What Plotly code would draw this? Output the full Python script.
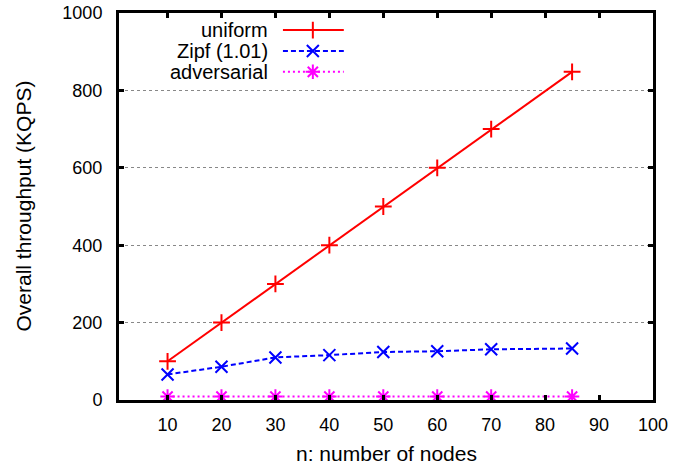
import plotly.graph_objects as go

nodes = [10, 20, 30, 40, 50, 60, 70, 85]
uniform = [100, 200, 300, 400, 500, 600, 700, 848]
zipf = [66, 86, 110, 116, 124, 126, 131, 133]
adversarial = [9, 9, 9, 9, 9, 9, 9, 9]

series_names = ["uniform", "Zipf (1.01)", "adversarial"]
series_values = [uniform, zipf, adversarial]
colors = ["#ff0000", "#0000ff", "#ff00ff"]
dashes = ["solid", "5px,3px", "2px,3px"]
symbols = ["cross-thin", "x-thin", "asterisk"]

x_ticks = [10, 20, 30, 40, 50, 60, 70, 80, 90, 100]
y_ticks = [0, 200, 400, 600, 800, 1000]

FONT = "Liberation Sans, Arial, sans-serif"
TEXT_SIZE = 21
LEG_SIZE = 20
TICK_SIZE = 18

fig = go.Figure()
for name, vals, c, d, s in zip(series_names, series_values, colors, dashes, symbols):
    fig.add_trace(go.Scatter(
        x=nodes, y=vals, mode="lines+markers", name=name,
        line=dict(color=c, width=2, dash=d),
        marker=dict(symbol=s, size=12, line=dict(color=c, width=2), color=c),
        showlegend=False,
    ))

# custom gnuplot-style legend (text right, sample to the right)
leg_rows = [0.956, 0.902, 0.848]
leg_line_x = [0.307, 0.363, 0.421]
for name, c, d, s, ry in zip(series_names, colors, dashes, symbols, leg_rows):
    fig.add_trace(go.Scatter(
        x=leg_line_x, y=[ry] * 3, xaxis="x2", yaxis="y2", mode="lines",
        line=dict(color=c, width=2, dash=d), showlegend=False, hoverinfo="skip"))
    fig.add_trace(go.Scatter(
        x=[leg_line_x[1]], y=[ry], xaxis="x2", yaxis="y2", mode="markers",
        marker=dict(symbol=s, size=12, line=dict(color=c, width=2), color=c),
        showlegend=False, hoverinfo="skip"))
    fig.add_annotation(x=0.281, y=ry, xref="paper", yref="paper", text=name,
                       showarrow=False, xanchor="right", yanchor="middle", borderpad=0,
                       font=dict(family=FONT, size=LEG_SIZE, color="black"))

# axis titles
fig.add_annotation(x=0.5, y=0, xref="paper", yref="paper", text="n: number of nodes",
                   showarrow=False, xanchor="center", yanchor="middle", yshift=-53,
                   font=dict(family=FONT, size=TEXT_SIZE, color="black"))
fig.add_annotation(x=0, y=0.5, xref="paper", yref="paper", text="Overall throughput (KQPS)",
                   showarrow=False, xanchor="center", yanchor="middle", xshift=-96,
                   textangle=-90, font=dict(family=FONT, size=TEXT_SIZE, color="black"))

fig.update_layout(
    width=675, height=467,
    margin=dict(l=119, r=22, t=13, b=67, autoexpand=False),
    paper_bgcolor="white", plot_bgcolor="white",
    font=dict(family=FONT, size=TICK_SIZE, color="black"),
    xaxis=dict(range=[1, 100], tickvals=x_ticks, ticks="inside", ticklen=5, tickwidth=3,
               tickcolor="black", showline=True, linecolor="black", linewidth=3,
               mirror="allticks", showgrid=False, zeroline=False, ticklabelstandoff=6,
               tickfont=dict(size=TICK_SIZE), automargin=False),
    yaxis=dict(range=[0, 1000], tickvals=y_ticks, ticks="inside", ticklen=5, tickwidth=3,
               tickcolor="black", showline=True, linecolor="black", linewidth=3,
               mirror="allticks", showgrid=True, gridcolor="#888888", griddash="dot",
               gridwidth=1, zeroline=False, ticklabelstandoff=10,
               tickfont=dict(size=TICK_SIZE), automargin=False),
    xaxis2=dict(range=[0, 1], overlaying="x", visible=False, anchor="y2"),
    yaxis2=dict(range=[0, 1], overlaying="y", visible=False, anchor="x2"),
)

fig.write_html("out.html")
